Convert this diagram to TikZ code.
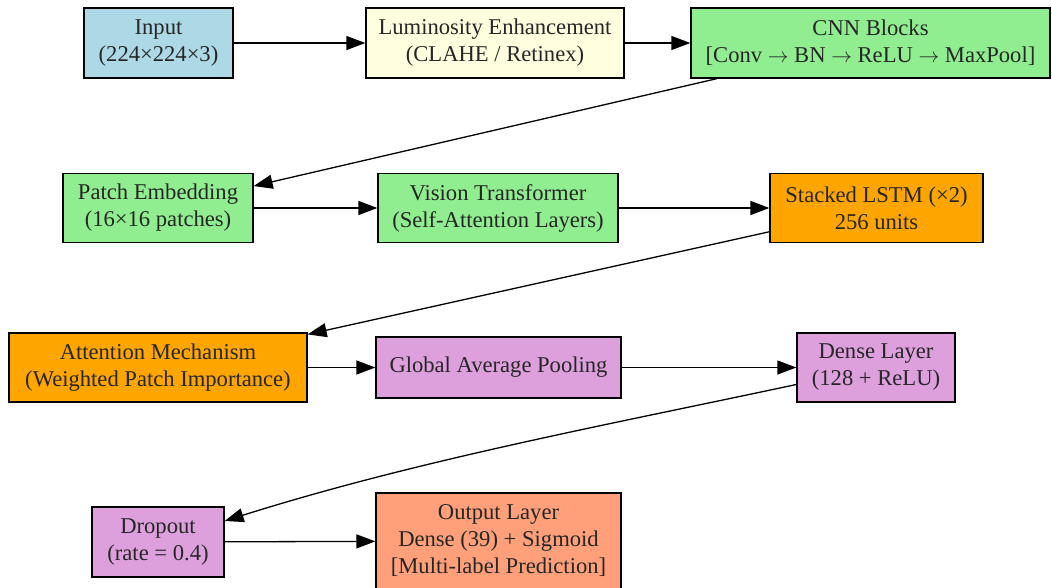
\documentclass[tikz,border=0pt]{standalone}
\usepackage{fontspec}
\setmainfont{Liberation Serif}
\usetikzlibrary{shapes,arrows.meta,positioning}

\definecolor{inblue}{HTML}{ADD8E6}
\definecolor{lumyellow}{HTML}{FFFFE0}
\definecolor{cnngreen}{HTML}{90EE90}
\definecolor{seqorange}{HTML}{FFA500}
\definecolor{headplum}{HTML}{DDA0DD}
\definecolor{outsalmon}{HTML}{FFA07A}

\tikzset{
  blk/.style={draw=black, line width=1.3pt, rectangle, align=center, inner sep=0pt,
    font=\fontsize{22.6}{27}\selectfont, text=black!85},
  flow/.style={-{Triangle[length=19pt,width=14pt]}, line width=1.3pt},
}

\begin{document}
\begin{tikzpicture}[x=1pt, y=-1pt]
  \useasboundingbox (0,0) rectangle (1052,588);

  \node[blk, fill=inblue, minimum width=149pt, minimum height=70pt] (input) at (158.5,43) {Input\\(224×224×3)};
  \node[blk, fill=lumyellow, minimum width=258pt, minimum height=70pt] (lum) at (495,43) {Luminosity Enhancement\\(CLAHE / Retinex)};
  \node[blk, fill=cnngreen, minimum width=359pt, minimum height=70pt] (cnn) at (870.5,43) {CNN Blocks\\{}[Conv $\rightarrow$ BN $\rightarrow$ ReLU $\rightarrow$ MaxPool]};
  \draw[flow] (input) -- (lum);
  \draw[flow] (lum) -- (cnn);

  \node[blk, fill=cnngreen, minimum width=190pt, minimum height=69pt] (patch) at (158,208) {Patch Embedding\\(16×16 patches)};
  \node[blk, fill=cnngreen, minimum width=240pt, minimum height=69pt] (vit) at (498,208) {Vision Transformer\\(Self-Attention Layers)};
  \node[blk, fill=seqorange, minimum width=213pt, minimum height=69pt] (lstm) at (876.5,208) {Stacked LSTM (×2)\\256 units};
  \draw[flow] (cnn) -- (patch);
  \draw[flow] (patch) -- (vit);
  \draw[flow] (vit) -- (lstm);

  \node[blk, fill=seqorange, minimum width=298pt, minimum height=69pt] (att) at (158,367.5) {Attention Mechanism\\(Weighted Patch Importance)};
  \node[blk, fill=headplum, minimum width=245pt, minimum height=61pt] (gap) at (498.5,367.5) {Global Average Pooling};
  \node[blk, fill=headplum, minimum width=158pt, minimum height=69pt] (dense) at (876,367.5) {Dense Layer\\(128 + ReLU)};
  \draw[flow] (lstm) -- (att);
  \draw[flow] (att) -- (gap);
  \draw[flow] (gap) -- (dense);

  \node[blk, fill=headplum, minimum width=132pt, minimum height=70pt] (drop) at (158,542) {Dropout\\(rate = 0.4)};
  \node[blk, fill=outsalmon, minimum width=245pt, minimum height=96pt] (out) at (498.5,541) {Output Layer\\Dense (39) + Sigmoid\\{}[Multi-label Prediction]};
  \draw[flow] (dense) .. controls (607,425) and (418,460) .. (drop);
  \draw[flow] (drop) -- (out);
\end{tikzpicture}
\end{document}
